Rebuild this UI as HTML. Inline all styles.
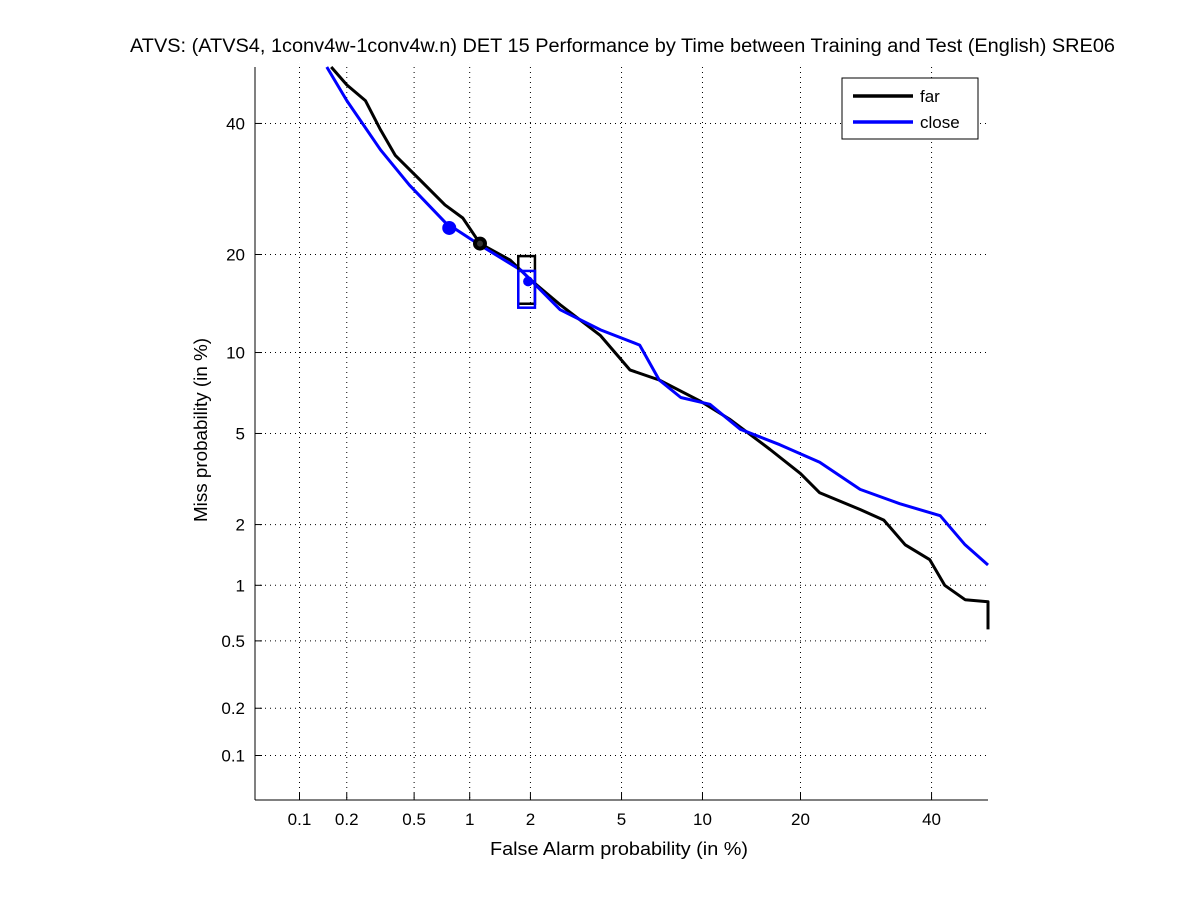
<!DOCTYPE html>
<html><head><meta charset="utf-8"><style>
body{margin:0;background:#fff;}
svg{display:block;font-family:"Liberation Sans",sans-serif;}
</style></head><body>
<svg id="chart" width="1201" height="900">
<rect width="1201" height="900" fill="#fff"/>
<text x="130" y="52" font-size="19" textLength="985" lengthAdjust="spacingAndGlyphs">ATVS: (ATVS4, 1conv4w-1conv4w.n) DET 15 Performance by Time between Training and Test (English) SRE06</text>
<g id="grid"></g>
<g id="axes"></g>
<g id="series"></g>
<text x="490" y="855" font-size="18" textLength="258" lengthAdjust="spacingAndGlyphs">False Alarm probability (in %)</text>
<text transform="translate(207,522) rotate(-90)" font-size="18" textLength="184" lengthAdjust="spacingAndGlyphs">Miss probability (in %)</text>
<g>
<rect x="842" y="78" width="136" height="61" fill="#fff" stroke="#000" stroke-width="1"/>
<g><line x1="853" y1="96" x2="913" y2="96" stroke="#000" stroke-width="3.5"/><text x="920" y="102" font-size="17">far</text></g>
<g><line x1="853" y1="122" x2="913" y2="122" stroke="#00f" stroke-width="3.5"/><text x="920" y="128" font-size="17">close</text></g>
</g>
</svg>
<script>
const tickValues=[0.1,0.2,0.5,1,2,5,10,20,40];
const tickLabels=["0.1","0.2","0.5","1","2","5","10","20","40"];
const farFA=[0.16,0.2,0.26,0.32,0.39,0.54,0.74,0.92,1.13,1.6,2,2.74,4.1,5.4,7,9.8,12.3,16.4,20,22.5,28.3,32,35.5,39.7,42.3,45.9,50,50];
const farMiss=[50,46.8,44,38.9,34.6,30.6,26.8,24.9,21.4,19.3,17,14.3,11.4,8.7,8,6.7,5.7,4.3,3.4,2.8,2.35,2.1,1.6,1.35,1.0,0.84,0.82,0.58];
const closeFA=[0.15,0.2,0.32,0.47,0.74,1.13,1.8,2.74,4.1,5.9,7,8.4,10.6,13.3,17.5,22.5,28.3,34.6,41.5,45.9,50];
const closeMiss=[50,44,35.5,29.8,24.3,21.2,18.1,13.8,11.9,10.6,8,6.9,6.5,5.2,4.5,3.8,2.9,2.5,2.2,1.6,1.27];
const farPoint=[1.13,21.4];
const closePoint=[0.78,23.5];
const farBox=[1.75,2.1,19.8,14.4];
const closeBox=[1.75,2.1,18,14];
const actPoint=[1.95,16.8];

function probit(p){
 const a=[-39.6968302866538,220.946098424521,-275.928510446969,138.357751867269,-30.6647980661472,2.50662827745924];
 const b=[-54.4760987982241,161.585836858041,-155.698979859887,66.8013118877197,-13.2806815528857];
 const c=[-0.00778489400243029,-0.322396458041136,-2.40075827716184,-2.54973253934373,4.37466414146497,2.93816398269878];
 const d=[0.00778469570904146,0.32246712907004,2.445134137143,3.75440866190742];
 const pl=0.02425;let q,r;
 if(p<pl){q=Math.sqrt(-2*Math.log(p));return (((((c[0]*q+c[1])*q+c[2])*q+c[3])*q+c[4])*q+c[5])/((((d[0]*q+d[1])*q+d[2])*q+d[3])*q+1);}
 if(p<=1-pl){q=p-0.5;r=q*q;return (((((a[0]*r+a[1])*r+a[2])*r+a[3])*r+a[4])*r+a[5])*q/(((((b[0]*r+b[1])*r+b[2])*r+b[3])*r+b[4])*r+1);}
 q=Math.sqrt(-2*Math.log(1-p));return -(((((c[0]*q+c[1])*q+c[2])*q+c[3])*q+c[4])*q+c[5])/((((d[0]*q+d[1])*q+d[2])*q+d[3])*q+1);
}
const L=255,R=988,T=67,B=800,Z0=-3.29,Z1=0;
const xs=v=>L+(probit(v/100)-Z0)/(Z1-Z0)*(R-L);
const ys=v=>B-(probit(v/100)-Z0)/(Z1-Z0)*(B-T);
const NS="http://www.w3.org/2000/svg";
function mk(tag,attrs,parent){const e=document.createElementNS(NS,tag);for(const k in attrs)e.setAttribute(k,attrs[k]);parent.appendChild(e);return e;}
const grid=document.getElementById('grid'),axes=document.getElementById('axes'),series=document.getElementById('series');
tickValues.forEach((v,i)=>{
 const x=xs(v),y=ys(v);
 const gx=mk('line',{x1:x,y1:T,x2:x,y2:B,stroke:'#000','stroke-width':1,'stroke-dasharray':'1,4'},grid);
 
 
 const gy=mk('line',{x1:L,y1:y,x2:R,y2:y,stroke:'#000','stroke-width':1,'stroke-dasharray':'1,4'},grid);
 
 
 mk('line',{x1:x,y1:B,x2:x,y2:B-7,stroke:'#000'},axes);
 mk('line',{x1:L,y1:y,x2:L+7,y2:y,stroke:'#000'},axes);
 const tx=mk('text',{x:x,y:B+25,'text-anchor':'middle','font-size':17},axes);tx.textContent=tickLabels[i];
 
 
 const ty=mk('text',{x:L-10,y:y+6,'text-anchor':'end','font-size':17},axes);ty.textContent=tickLabels[i];
 
 
});
mk('line',{x1:L,y1:T,x2:L,y2:B,stroke:'#000'},axes);
mk('line',{x1:L,y1:B,x2:R,y2:B,stroke:'#000'},axes);
function curve(fa,miss,col,name){
 const pts=fa.map((v,i)=>xs(v).toFixed(1)+','+ys(miss[i]).toFixed(1)).join(' ');
 const p=mk('polyline',{points:pts,fill:'none',stroke:col,'stroke-width':3,'stroke-linejoin':'round'},series);
 
 
}
curve(farFA,farMiss,'#000','far-curve');
curve(closeFA,closeMiss,'#00f','close-curve');
function box(bx,col,name){
 const r=mk('rect',{x:xs(bx[0]),y:ys(bx[2]),width:xs(bx[1])-xs(bx[0]),height:ys(bx[3])-ys(bx[2]),fill:'none',stroke:col,'stroke-width':2.5},series);
 
 
}
box(farBox,'#000','far-confidence-box');
box(closeBox,'#00f','close-confidence-box');
const c1=mk('circle',{cx:xs(farPoint[0]),cy:ys(farPoint[1]),r:6,fill:'#000',stroke:'#000','stroke-width':2},series);


mk('circle',{cx:xs(farPoint[0]),cy:ys(farPoint[1]),r:3,fill:'#333'},series);
const c2=mk('circle',{cx:xs(closePoint[0]),cy:ys(closePoint[1]),r:7,fill:'#00f'},series);


const c3=mk('circle',{cx:xs(actPoint[0]),cy:ys(actPoint[1]),r:5,fill:'#00f'},series);


</script>
</body></html>
